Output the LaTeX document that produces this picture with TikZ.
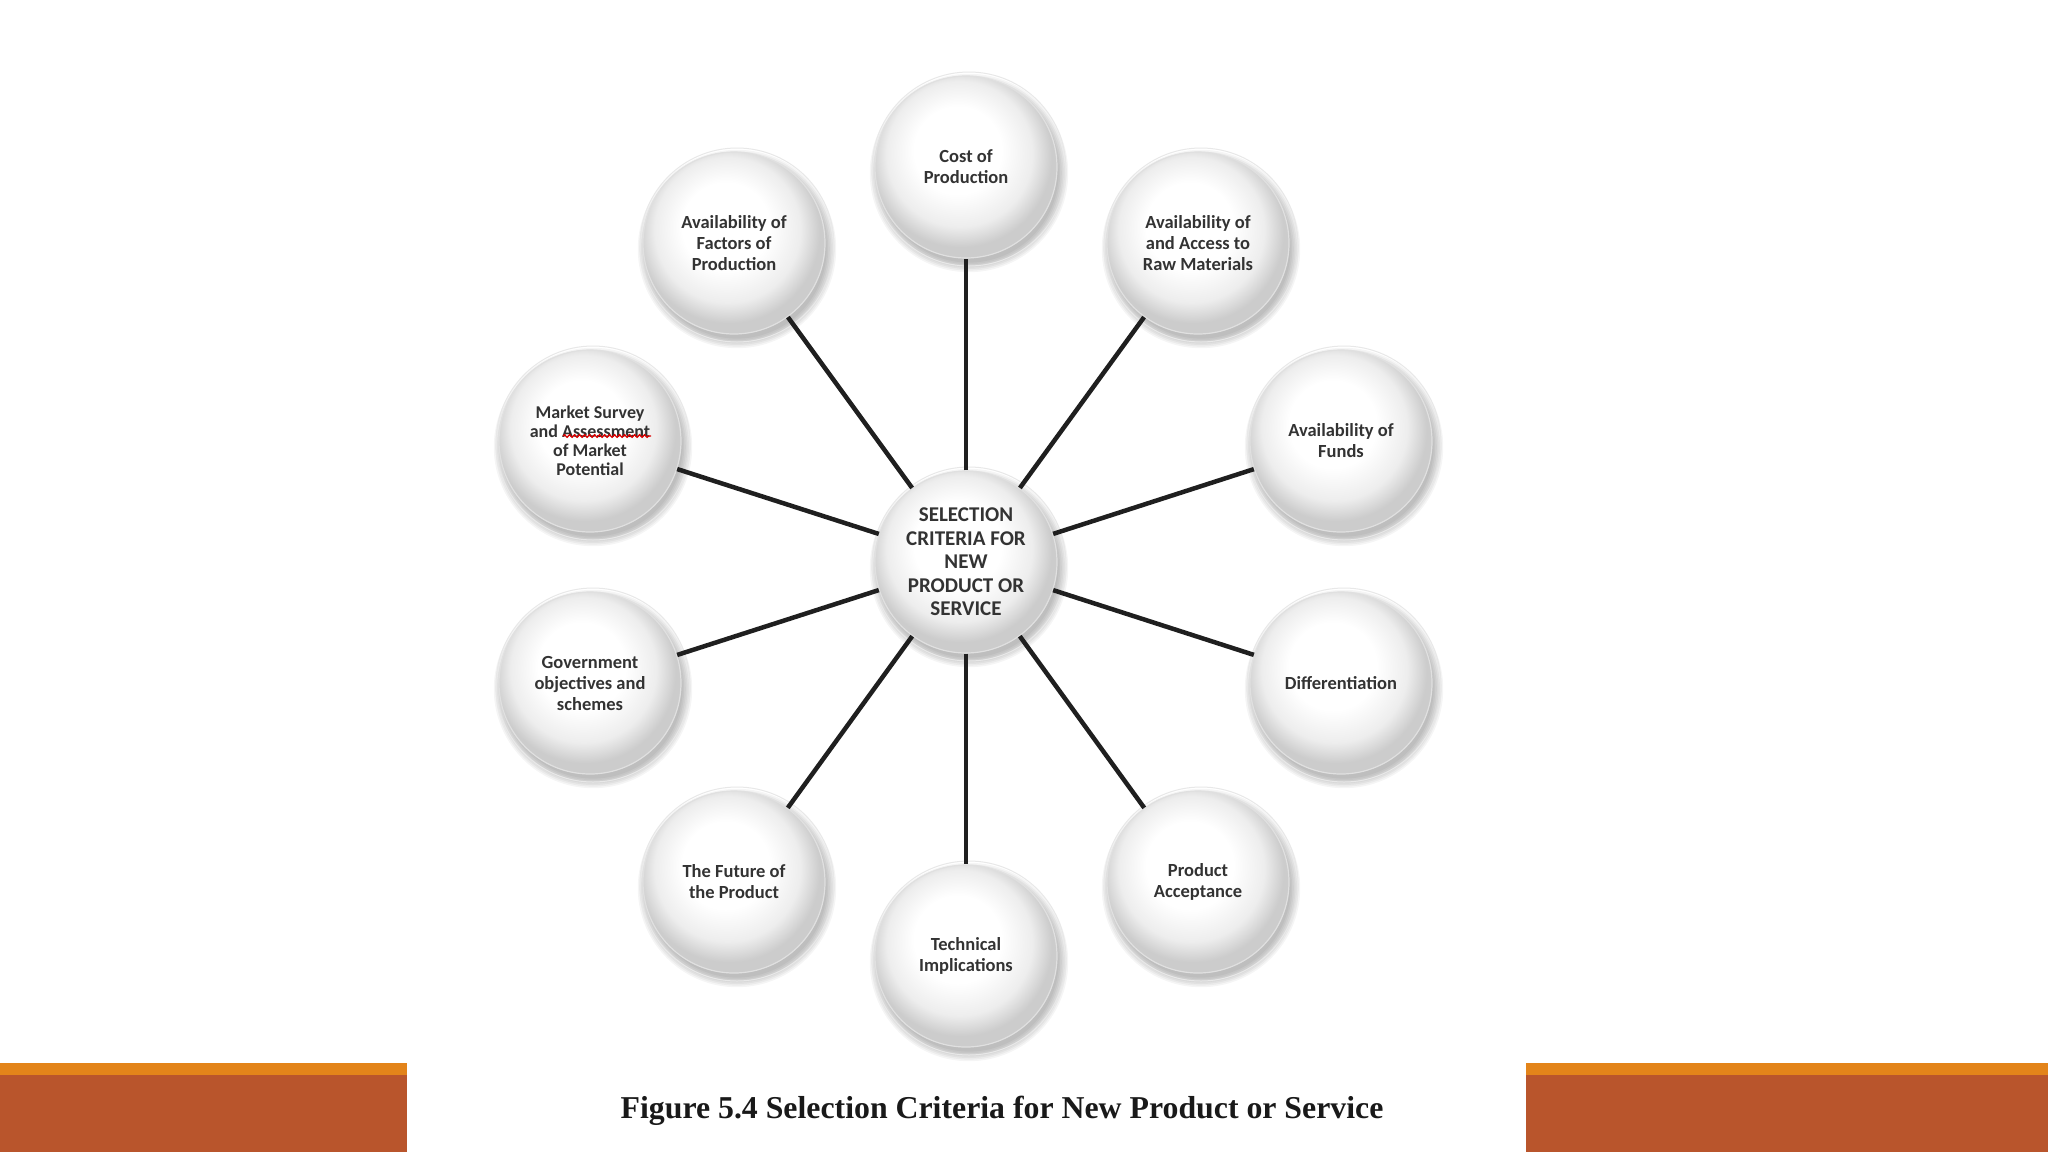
\documentclass[tikz,border=0pt]{standalone}
\usepackage{fontspec}
\setmainfont{Liberation Serif}
\newfontfamily\carl{Carlito}
\usetikzlibrary{decorations.pathmorphing}
\definecolor{barorange}{HTML}{E3841A}
\definecolor{barbrown}{HTML}{B9552C}
\definecolor{txt}{HTML}{333333}
\pgfdeclareradialshading{softball}{\pgfpoint{-3bp}{6bp}}{color(0bp)=(white); color(12bp)=(white); color(20bp)=(black!7); color(25bp)=(black!20); color(50bp)=(black!20)}
\tikzset{
  ball/.style={circle, minimum size=182pt, inner sep=0pt, align=center,
    shading=softball, draw=black!12, line width=1.2pt,
    text=txt, font=\carl\bfseries\fontsize{18.5}{21}\selectfont},
  hub/.style={ball, font=\carl\bfseries\fontsize{21}{23.5}\selectfont},
  link/.style={line width=4.5pt, black!88},
  halo/.style={draw=black!9, line width=1pt}
}
\newcommand{\shadowat}[2]{%
  \foreach \k in {1,...,7}{\fill[black, opacity=0.04] (#1+3,#2+6) circle ({88pt+\k*1.6pt});}%
  \draw[halo] (#1+3,#2+2) circle (97pt);}
\begin{document}
\begin{tikzpicture}[x=1pt,y=-1pt]
\useasboundingbox (0,0) rectangle (2048,1152);
\fill[white] (0,0) rectangle (2048,1152);
% bottom bars
\fill[barorange] (0,1063) rectangle (407,1075);
\fill[barbrown] (0,1075) rectangle (407,1152);
\fill[barorange] (1526,1063) rectangle (2048,1075);
\fill[barbrown] (1526,1075) rectangle (2048,1152);
% shadows
\shadowat{966}{562}
\shadowat{966}{167}
\shadowat{1198}{243}
\shadowat{1341}{441}
\shadowat{1341}{683}
\shadowat{1198}{882}
\shadowat{966}{956}
\shadowat{734}{882}
\shadowat{590}{683}
\shadowat{590}{441}
\shadowat{734}{243}
% nodes
\node[hub] (c) at (966,562) {SELECTION\\CRITERIA FOR\\NEW\\PRODUCT OR\\SERVICE};
\node[ball] (n1) at (966,167) {Cost of\\Production};
\node[ball] (n2) at (1198,243) {Availability of\\and Access to\\Raw Materials};
\node[ball] (n3) at (1341,441) {Availability of\\Funds};
\node[ball] (n4) at (1341,683) {Differentiation};
\node[ball] (n5) at (1198,882) {Product\\Acceptance};
\node[ball] (n6) at (966,956) {Technical\\Implications};
\node[ball] (n7) at (734,882) {The Future of\\the Product};
\node[ball] (n8) at (590,683) {Government\\objectives and\\schemes};
\node[ball, font=\carl\bfseries\fontsize{18}{19}\selectfont] (n9) at (590,441) {Market Survey\\and Assessment\\of Market\\Potential};
\node[ball] (n10) at (734,243) {Availability of\\Factors of\\Production};
% spell-check squiggle
\coordinate (sqa) at (563,436);
\coordinate (sqb) at (651,436);
\draw[red!85!black, line width=1.3pt, decorate, decoration={snake, amplitude=1.3pt, segment length=5pt}] (sqa) -- (sqb);
% connectors
\foreach \n in {n1,n2,n3,n4,n5,n6,n7,n8,n9,n10}{\draw[link] (c) -- (\n);}
% caption
\node[font=\bfseries\fontsize{31.8}{36}\selectfont, text=black!90] (cap) at (1002,1111) {Figure 5.4 Selection Criteria for New Product or Service};
\end{tikzpicture}
\end{document}
